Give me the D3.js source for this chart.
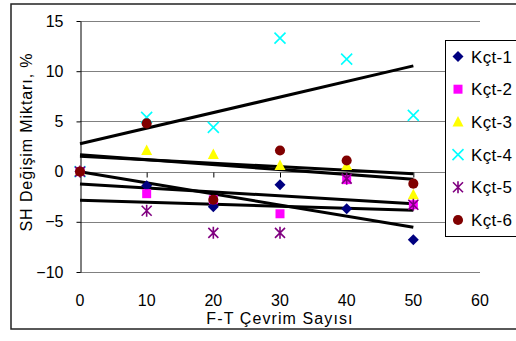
<!DOCTYPE html>
<html>
<head>
<meta charset="utf-8">
<script src="https://cdn.jsdelivr.net/npm/d3@7"></script>
<style>
  body { margin: 0; background: #fff; }
  text { font-family: "Liberation Sans", Arial, sans-serif; fill: #000; }
</style>
</head>
<body>
<svg width="516" height="341"></svg>
<script>
// data
var cycles = [0, 10, 20, 30, 40, 50];
var kct1 = [0, -1.4, -3.5, -1.3, -3.7, -6.8];
var kct2 = [0, -2.2, -2.8, -4.2, -0.8, -3.3];
var kct3 = [0, 2.1, 1.7, 0.6, 0.6, -2.3];
var kct4 = [0, 5.4, 4.4, 13.3, 11.2, 5.6];
var kct5 = [0, -3.9, -6.1, -6.1, -0.7, -3.3];
var kct6 = [0, 4.8, -2.8, 2.1, 1.1, -1.2];
var seriesNames = ["Kçt-1", "Kçt-2", "Kçt-3", "Kçt-4", "Kçt-5", "Kçt-6"];
var xTicks = [0, 10, 20, 30, 40, 50, 60];
var yTicks = [-10, -5, 0, 5, 10, 15];

var series = [
  {name: seriesNames[0], values: kct1, color: "#000080", shape: "diamond"},
  {name: seriesNames[1], values: kct2, color: "#ff00ff", shape: "square"},
  {name: seriesNames[2], values: kct3, color: "#ffff00", shape: "triangle"},
  {name: seriesNames[3], values: kct4, color: "#00ffff", shape: "x"},
  {name: seriesNames[4], values: kct5, color: "#800080", shape: "star"},
  {name: seriesNames[5], values: kct6, color: "#800000", shape: "circle"}
];

var svg = d3.select("svg");

// chart border
svg.append("rect")
    .attr("x", 11).attr("y", 4)
    .attr("width", 520).attr("height", 325)
    .attr("fill", "none")
    .attr("stroke", "#222")
    .attr("stroke-width", 1.5);

var xScale = d3.scaleLinear().domain([0, 60]).range([80, 480]);
var yScale = d3.scaleLinear().domain([-10, 15]).range([272, 21]);

// gridlines
svg.append("g")
  .selectAll("line")
  .data(yTicks)
  .enter()
  .append("line")
    .attr("x1", 80).attr("x2", 480)
    .attr("y1", d => Math.round(yScale(d)) + 0.5)
    .attr("y2", d => Math.round(yScale(d)) + 0.5)
    .attr("stroke", "#808080");

// y axis
var yAxis = d3.axisLeft(yScale)
    .tickValues(yTicks)
    .tickSize(4)
    .tickSizeOuter(0)
    .tickPadding(13);

svg.append("g")
    .attr("transform", "translate(80.5,0)")
    .call(yAxis)
    .call(g => g.selectAll("text").style("font-size", "16px").style("font-family", "Liberation Sans, Arial"))
    .call(g => g.selectAll("line,path").attr("stroke", "#000"));

// x axis ticks sit on the zero line, labels at the bottom
var xAxis = d3.axisBottom(xScale)
    .tickValues(xTicks)
    .tickSize(5)
    .tickSizeOuter(0)
    .tickFormat("");

svg.append("g")
    .attr("transform", "translate(0," + (Math.round(yScale(0)) + 0.5) + ")")
    .call(xAxis)
    .call(g => g.select(".domain").remove())
    .call(g => g.selectAll("line").attr("stroke", "#000"));

svg.append("g")
  .selectAll("text")
  .data(xTicks)
  .enter()
  .append("text")
    .attr("x", d => xScale(d))
    .attr("y", 306)
    .style("text-anchor", "middle")
    .style("font-size", "16px")
    .text(d => d);

// axis titles
svg.append("text")
    .attr("x", 280)
    .attr("y", 324)
    .style("text-anchor", "middle")
    .style("font-size", "16px")
    .style("letter-spacing", "1.1px")
    .text("F-T Çevrim Sayısı");

svg.append("text")
    .attr("transform", "rotate(-90)")
    .attr("x", -142)
    .attr("y", 32)
    .style("text-anchor", "middle")
    .style("font-size", "16px")
    .style("letter-spacing", "0.9px")
    .text("SH Değişim Miktarı, %");

// linear trend lines (least squares from each series)
function trend(vals) {
  var mx = d3.mean(cycles), my = d3.mean(vals);
  var sxy = d3.sum(cycles, (x, i) => (x - mx) * (vals[i] - my));
  var sxx = d3.sum(cycles, x => (x - mx) * (x - mx));
  var b = sxy / sxx, a = my - b * mx;
  var x0 = d3.min(cycles), x1 = d3.max(cycles);
  return [[x0, a + b * x0], [x1, a + b * x1]];
}

var line = d3.line()
    .x(d => xScale(d[0]))
    .y(d => yScale(d[1]));

svg.append("g")
  .selectAll("path")
  .data(series)
  .enter()
  .append("path")
    .attr("d", d => line(trend(d.values)))
    .attr("fill", "none")
    .attr("stroke", "#000")
    .attr("stroke-width", 3);

// marker shapes
function markerPath(shape) {
  if (shape == "diamond") return "M0,-5.5L5.5,0L0,5.5L-5.5,0Z";
  if (shape == "square") return "M-4.5,-4.5H4.5V4.5H-4.5Z";
  if (shape == "triangle") return "M0,-6L5.5,4.5H-5.5Z";
  if (shape == "x") return "M-5.5,-5.5L5.5,5.5M5.5,-5.5L-5.5,5.5";
  if (shape == "star") return "M-5,-5L5,5M5,-5L-5,5M0,-6V6";
  return d3.symbol(d3.symbolCircle, 80)();
}

function drawMarker(sel, s) {
  var stroked = s.shape == "x" || s.shape == "star";
  sel.attr("d", markerPath(s.shape))
     .attr("fill", stroked ? "none" : s.color)
     .attr("stroke", stroked ? s.color : "none")
     .attr("stroke-width", stroked ? 1.6 : 0);
}

series.forEach(function(s) {
  svg.append("g")
    .selectAll("path")
    .data(s.values)
    .enter()
    .append("path")
      .attr("transform", (d, i) => "translate(" + xScale(cycles[i]) + "," + yScale(d) + ")")
      .call(drawMarker, s);
});

// legend
var legend = svg.append("g");
legend.append("rect")
    .attr("x", 445.5).attr("y", 40.5)
    .attr("width", 80).attr("height", 196)
    .attr("fill", "#fff")
    .attr("stroke", "#000");

var item = legend.selectAll("g")
  .data(series)
  .enter()
  .append("g")
    .attr("transform", (d, i) => "translate(458," + (56.5 + i * 32.7) + ")");

item.append("path")
    .each(function(d) { d3.select(this).call(drawMarker, d); });

item.append("text")
    .attr("x", 13)
    .attr("y", 6)
    .style("font-size", "17px")
    .style("letter-spacing", "0.3px")
    .text(d => d.name);
</script>
</body>
</html>
